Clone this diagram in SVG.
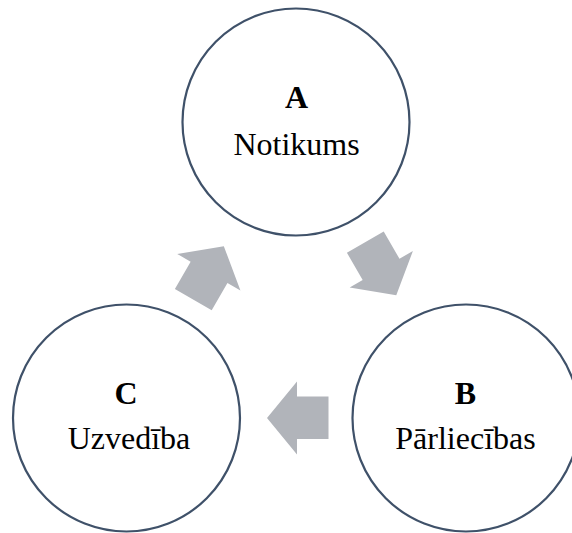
<svg xmlns="http://www.w3.org/2000/svg" xmlns:xlink="http://www.w3.org/1999/xlink" width="572" height="533" viewBox="0 0 572 533">
  <style>
    .node { fill: #ffffff; stroke: #3f5169; stroke-width: 2.2; }
    .letter { font-family: "Liberation Serif", "Times New Roman", serif; font-size: 32px; font-weight: bold; fill: #000000; text-anchor: middle; }
    .label { font-family: "Liberation Serif", "Times New Roman", serif; font-size: 32px; fill: #000000; text-anchor: middle; }
    .arrow { fill: #b1b4ba; }
  </style>
  <defs>
    <!-- block arrow pointing left, placed between C and B; the other two are rotated copies -->
    <polygon id="cycleArrow" class="arrow" points="267,418 297,381.5 297,396.5 328.5,396.5 328.5,439 297,439 297,454.5"/>
  </defs>

  <g id="connectors">
    <use id="arrow-B-C" xlink:href="#cycleArrow"/>
    <use id="arrow-C-A" xlink:href="#cycleArrow" transform="translate(-1.5,1.5) rotate(120 296.2 319.3)"/>
    <use id="arrow-A-B" xlink:href="#cycleArrow" transform="rotate(-120 296.2 319.3)"/>
  </g>

  <g id="node-A">
    <circle class="node" cx="296" cy="122" r="113.5"/>
    <text class="letter" x="296.5" y="108">A</text>
    <text class="label" x="296.5" y="155">Notikums</text>
  </g>

  <g id="node-B">
    <circle class="node" cx="466" cy="418" r="113.5"/>
    <text class="letter" x="465.5" y="404">B</text>
    <text class="label" x="465.5" y="449">Pārliecības</text>
  </g>

  <g id="node-C">
    <circle class="node" cx="126.5" cy="418" r="113.5"/>
    <text class="letter" x="126" y="404">C</text>
    <text class="label" x="129" y="449">Uzvedība</text>
  </g>
</svg>
